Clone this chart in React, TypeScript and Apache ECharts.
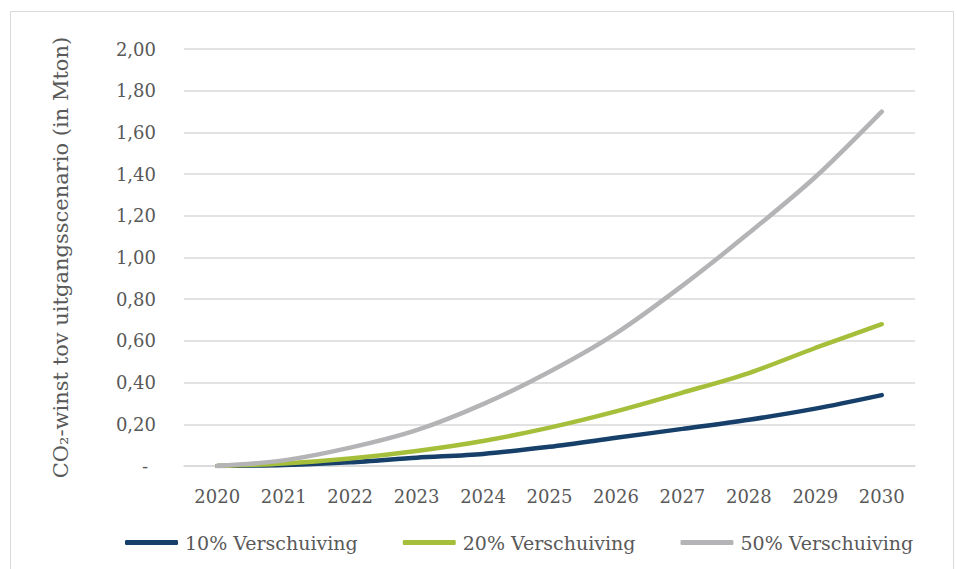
import React, { useEffect, useRef } from "react";
import * as echarts from "echarts";

const years = ["2020", "2021", "2022", "2023", "2024", "2025", "2026", "2027", "2028", "2029", "2030"];
const shift10 = [0, 0.005, 0.018, 0.04, 0.058, 0.092, 0.135, 0.178, 0.222, 0.275, 0.34];
const shift20 = [0, 0.012, 0.036, 0.072, 0.12, 0.184, 0.262, 0.352, 0.446, 0.566, 0.68];
const shift50 = [0, 0.027, 0.088, 0.172, 0.297, 0.452, 0.636, 0.865, 1.117, 1.386, 1.7];
const seriesNames = ["10% Verschuiving", "20% Verschuiving", "50% Verschuiving"];
const yAxisName = "CO₂-winst tov uitgangsscenario (in Mton)";

const FONT = "DejaVu Serif";
const TEXT = "#595959";
const GRID = "#d9d9d9";
const colors = ["#163f6a", "#a6bf3b", "#b4b4b7"];

export default function App() {
  const ref = useRef<HTMLDivElement>(null);
  useEffect(() => {
    if (!ref.current) return;
    const chart = echarts.init(ref.current, null, { renderer: "svg" });
    const data = [shift10, shift20, shift50];
    chart.setOption({
      animation: false,
      backgroundColor: "#ffffff",
      textStyle: { fontFamily: FONT, color: TEXT },
      graphic: [
        {
          type: "rect",
          shape: { x: 10.5, y: 11.5, width: 943, height: 600 },
          style: { fill: "none", stroke: GRID, lineWidth: 1 },
          silent: true,
        },
      ],
      grid: { left: 184, right: 42, top: 49, bottom: 103, containLabel: false },
      legend: {
        left: 125,
        top: 533,
        padding: 0,
        itemWidth: 53,
        itemHeight: 5,
        itemGap: 45,
        icon: "roundRect",
        data: seriesNames,
        textStyle: { fontFamily: FONT, fontSize: 19, color: TEXT, padding: [0, 0, 0, 2] },
      },
      xAxis: {
        type: "category",
        data: years,
        boundaryGap: true,
        axisLine: { show: true, lineStyle: { color: GRID, width: 1.5 } },
        axisTick: { show: false },
        axisLabel: { fontFamily: FONT, fontSize: 18, color: TEXT, margin: 21 },
      },
      yAxis: {
        type: "value",
        min: 0,
        max: 2,
        interval: 0.2,
        name: yAxisName,
        nameLocation: "middle",
        nameGap: 113,
        nameTextStyle: { fontFamily: FONT, fontSize: 21, color: TEXT },
        axisLine: { show: false },
        axisTick: { show: false },
        splitLine: { show: true, lineStyle: { color: GRID, width: 1.5 } },
        axisLabel: {
          fontFamily: FONT,
          fontSize: 18,
          color: TEXT,
          margin: 28,
          formatter: (v: number) => (Math.abs(v) < 1e-9 ? "{d|-}" : v.toFixed(2).replace(".", ",")),
          rich: { d: { fontFamily: FONT, fontSize: 18, color: TEXT, padding: [0, 8, 0, 0] } },
        },
      },
      series: data.map((d, i) => ({
        name: seriesNames[i],
        type: "line",
        data: d,
        smooth: 0.3,
        showSymbol: false,
        symbol: "none",
        color: colors[i],
        lineStyle: { color: colors[i], width: 4.5, cap: "round" },
        itemStyle: { color: colors[i] },
        z: 2 + i,
      })),
    });
    return () => chart.dispose();
  }, []);
  return (
    <div
      ref={ref}
      style={{ position: "fixed", left: 0, top: 0, width: 957, height: 569 }}
    />
  );
}
